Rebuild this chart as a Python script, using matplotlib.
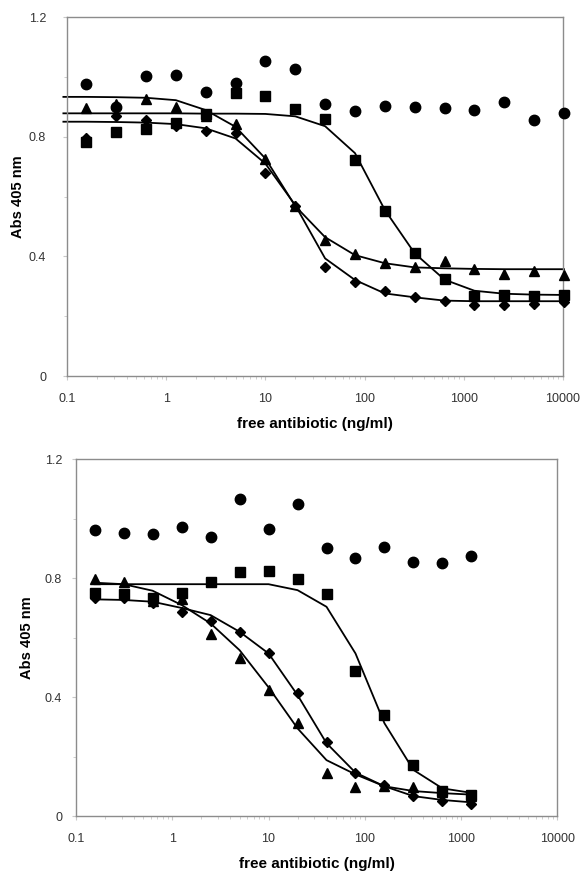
import matplotlib
matplotlib.use('Agg')
from matplotlib import pyplot as plt
from matplotlib.ticker import FixedLocator, FixedFormatter, NullFormatter, LogLocator

plt.rcParams['font.family'] = ['Liberation Sans', 'DejaVu Sans']

# antibiotic concentrations (ng/ml)
conc = [0.156, 0.3125, 0.625, 1.25, 2.5, 5, 10, 20, 40, 80, 160, 320, 640,
        1280, 2560, 5120, 10240]
conc_b = conc[:14]
fit_x_top = [0.092] + conc
fit_x_bot = [0.156] + conc_b[1:]

# top panel data
top_circle = [0.975, 0.90, 1.004, 1.007, 0.948, 0.979, 1.052, 1.025, 0.909,
              0.887, 0.901, 0.90, 0.895, 0.89, 0.915, 0.857, 0.879]
top_square = [0.783, 0.817, 0.824, 0.847, 0.876, 0.945, 0.936, 0.892, 0.859,
              0.721, 0.552, 0.412, 0.323, 0.268, 0.27, 0.267, 0.27]
top_triangle = [0.895, 0.91, 0.925, 0.898, 0.87, 0.842, 0.724, 0.568, 0.455,
                0.408, 0.378, 0.363, 0.384, 0.358, 0.341, 0.351, 0.338]
top_diamond = [0.795, 0.87, 0.856, 0.836, 0.82, 0.811, 0.677, 0.569, 0.363,
               0.315, 0.284, 0.263, 0.252, 0.237, 0.238, 0.24, 0.248]
top_fit_square = [0.878, 0.878, 0.878, 0.878, 0.878, 0.877, 0.877, 0.876, 0.868,
                  0.835, 0.745, 0.555, 0.41, 0.322, 0.285, 0.275, 0.272, 0.271]
top_fit_triangle = [0.933, 0.933, 0.932, 0.93, 0.922, 0.889, 0.833, 0.727, 0.568,
                    0.464, 0.404, 0.377, 0.363, 0.36, 0.358, 0.357, 0.357, 0.357]
top_fit_diamond = [0.85, 0.85, 0.849, 0.847, 0.842, 0.828, 0.794, 0.71, 0.571,
                   0.393, 0.321, 0.276, 0.263, 0.252, 0.25, 0.25, 0.25, 0.25]

# bottom panel data
bot_circle = [0.962, 0.953, 0.95, 0.971, 0.94, 1.067, 0.967, 1.05, 0.903,
              0.867, 0.906, 0.855, 0.852, 0.874]
bot_square = [0.749, 0.746, 0.735, 0.751, 0.786, 0.82, 0.823, 0.798, 0.748,
              0.488, 0.34, 0.172, 0.085, 0.071]
bot_triangle = [0.796, 0.786, 0.725, 0.73, 0.611, 0.53, 0.424, 0.312, 0.146,
                0.099, 0.102, 0.097, 0.08, 0.066]
bot_diamond = [0.735, 0.735, 0.718, 0.686, 0.657, 0.62, 0.547, 0.413, 0.248,
               0.144, 0.104, 0.067, 0.05, 0.04]
bot_fit_square = [0.78, 0.78, 0.78, 0.78, 0.78, 0.78, 0.78, 0.76, 0.704,
                  0.547, 0.312, 0.155, 0.093, 0.078]
bot_fit_triangle = [0.785, 0.78, 0.758, 0.71, 0.648, 0.558, 0.433, 0.295, 0.188,
                    0.14, 0.1, 0.084, 0.077, 0.072]
bot_fit_diamond = [0.729, 0.727, 0.721, 0.70, 0.676, 0.62, 0.547, 0.407, 0.245,
                   0.146, 0.1, 0.067, 0.054, 0.046]

xticks = [0.1, 1, 10, 100, 1000, 10000]
xlabels = ['0.1', '1', '10', '100', '1000', '10000']
yticks = [0, 0.4, 0.8, 1.2]
ylabels = ['0', '0.4', '0.8', '1.2']


def style_axes(ax, ypad, ylabpad):
    ax.set_xscale('log')
    ax.set_xlim(0.1, 10000)
    ax.set_ylim(0, 1.2)
    ax.xaxis.set_major_locator(FixedLocator(xticks))
    ax.xaxis.set_major_formatter(FixedFormatter(xlabels))
    ax.xaxis.set_minor_locator(LogLocator(base=10, subs=range(2, 10)))
    ax.xaxis.set_minor_formatter(NullFormatter())
    ax.yaxis.set_major_locator(FixedLocator(yticks))
    ax.yaxis.set_major_formatter(FixedFormatter(ylabels))
    ax.yaxis.set_minor_locator(FixedLocator([0.2, 0.6, 1.0]))
    for s in ax.spines.values():
        s.set_color('#8c8c8c')
        s.set_linewidth(1.0)
    ax.tick_params(axis='both', which='both', color='#c8c8c8', direction='out',
                   labelsize=9, labelcolor='#333333')
    ax.tick_params(axis='both', which='major', length=3)
    ax.tick_params(axis='both', which='minor', length=2)
    ax.tick_params(axis='y', pad=ypad)
    ax.tick_params(axis='x', pad=9)
    ax.set_xlabel('free antibiotic (ng/ml)', fontsize=11, fontweight='bold', labelpad=9)
    ax.set_ylabel('Abs 405 nm', fontsize=10.5, fontweight='bold', labelpad=ylabpad)


def draw_points(ax, x, circ, sq, tri, dia):
    kw = dict(linestyle='none', color='black', clip_on=False, zorder=3)
    ax.plot(x, circ, marker='o', markersize=7.5, **kw)
    ax.plot(x, sq, marker='s', markersize=7, **kw)
    ax.plot(x, tri, marker='^', markersize=7.5, **kw)
    ax.plot(x, dia, marker='D', markersize=5.5, **kw)


fig = plt.figure(figsize=(5.83, 8.72), dpi=100)

ax1 = fig.add_axes([0.1149, 0.5688, 0.8508, 0.4117])
for f in (top_fit_square, top_fit_triangle, top_fit_diamond):
    ax1.plot(fit_x_top, f, color='black', linewidth=1.3, clip_on=False, zorder=2)
draw_points(ax1, conc, top_circle, top_square, top_triangle, top_diamond)
style_axes(ax1, 12, 3)

ax2 = fig.add_axes([0.1304, 0.0642, 0.8256, 0.409])
for f in (bot_fit_square, bot_fit_triangle, bot_fit_diamond):
    ax2.plot(fit_x_bot, f, color='black', linewidth=1.3, clip_on=False, zorder=2)
draw_points(ax2, conc_b, bot_circle, bot_square, bot_triangle, bot_diamond)
style_axes(ax2, 7, 8)

fig.savefig('out.png', dpi=100)
